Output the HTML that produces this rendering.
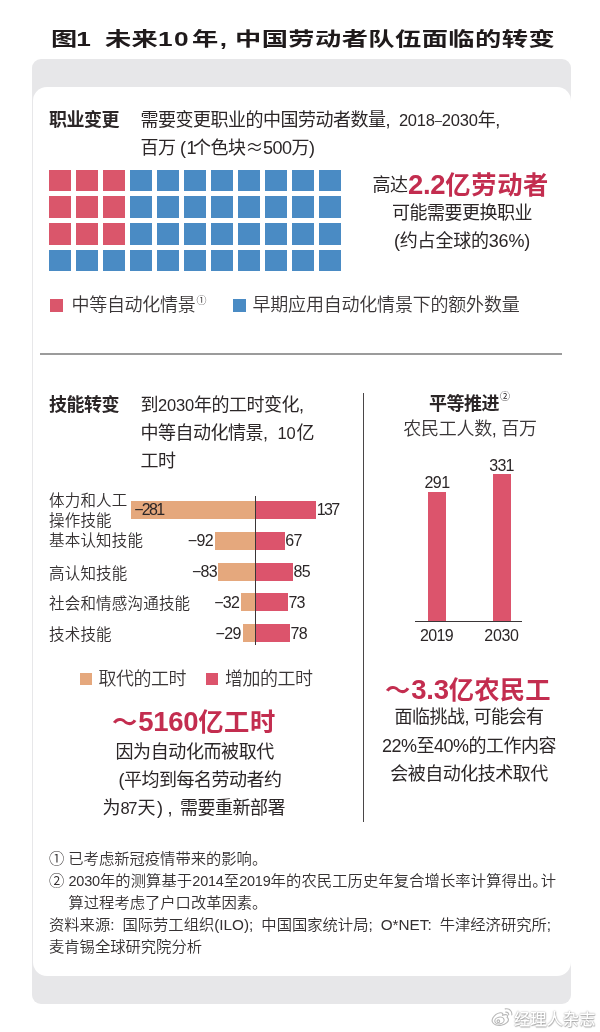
<!DOCTYPE html>
<html lang="zh-CN">
<head>
<meta charset="utf-8">
<title>图1 未来10年，中国劳动者队伍面临的转变</title>
<style>
html,body{margin:0;padding:0;background:#fff;}
body{width:600px;height:1032px;position:relative;overflow:hidden;
  font-family:"Liberation Sans","Noto Sans CJK SC",sans-serif;color:#2b2627;}
.abs{position:absolute;}
.t{position:absolute;white-space:nowrap;line-height:1;font-weight:400;color:#2b2627;}
.b{font-weight:700;}
.tt{font-weight:700;font-size:19.3px;letter-spacing:.2px;color:#1f1a1b;transform:scaleX(1.36);transform-origin:0 0;}
.red{color:#c32d4f;}
.c{text-align:center;}
.sq{position:absolute;width:22px;height:21.5px;}
.r{background:#da566b;}
.bl{background:#4a8bc4;}
.bar{position:absolute;height:18px;}
.cl{font-size:15.5px;font-weight:350;color:#353132;letter-spacing:.2px;}
.n{font-size:16px;letter-spacing:-.7px;}
.or{background:#e5a87d;}
.rd{background:#dc546c;}
.bd{font-size:27.5px;letter-spacing:-.3px;}
.d{font-size:16.5px;letter-spacing:-.2px;margin-left:4.5px;}
.ds{font-size:13px;position:relative;top:-1px;}
.cj{font-family:"Noto Sans CJK SC",sans-serif;line-height:0;}
.lg{font-weight:350;color:#3a3637;}
.sp{display:inline-block;font-size:10px;line-height:0;position:relative;top:-7px;margin-left:1px;letter-spacing:0;font-weight:400;}
.f{font-size:15.3px;font-weight:350;color:#353132;}
.g1{display:inline-block;width:4px;}
.g2{display:inline-block;width:8px;}
.fd{font-size:14.5px;letter-spacing:-.2px;}
.fs{margin-right:-7px;}
</style>
</head>
<body>
<!-- backdrop -->
<div class="abs" id="gray" style="left:32px;top:59px;width:539px;height:945px;background:#e7e7e9;border-radius:9px;"></div>
<div class="abs" id="panel" style="left:32.5px;top:87px;width:538.5px;height:889px;background:#fff;border-radius:14px;"></div>

<!-- title -->
<div class="t b tt" id="title" style="left:50.5px;top:29.5px;">图<span style="letter-spacing:0;margin-left:-1px;">1</span></div>
<div class="t b tt" id="title2" style="left:105px;top:29.5px;">未来<span style="letter-spacing:1px;margin-right:1.5px;">10</span>年<span style="letter-spacing:0;margin-left:1px">,</span></div>
<div class="t b tt" id="title3" style="left:234.5px;top:29.5px;letter-spacing:.33px;">中国劳动者队伍面临的转变</div>

<!-- section 1 -->
<div class="t b" id="s1h" style="left:49px;top:110.8px;font-size:18px;letter-spacing:-0.5px;">职业变更</div>
<div class="t" id="s1a" style="left:140.5px;top:110.8px;font-size:18px;letter-spacing:-0.5px;">需要变更职业的中国劳动者数量,<span class="d"> 2018<span class="ds">–</span>2030</span>年,</div>
<div class="t" id="s1b" style="left:140.5px;top:138.8px;font-size:18px;letter-spacing:-0.5px;">百万 (<span style="margin:0 -3px 0 1px">1</span>个色块<span class="cj">≈</span>500万)</div>

<div id="waffle">
<div class="sq r" style="left:49px;top:169.5px"></div><div class="sq r" style="left:76px;top:169.5px"></div><div class="sq r" style="left:103px;top:169.5px"></div><div class="sq bl" style="left:130px;top:169.5px"></div><div class="sq bl" style="left:157px;top:169.5px"></div><div class="sq bl" style="left:184px;top:169.5px"></div><div class="sq bl" style="left:211px;top:169.5px"></div><div class="sq bl" style="left:238px;top:169.5px"></div><div class="sq bl" style="left:265px;top:169.5px"></div><div class="sq bl" style="left:292px;top:169.5px"></div><div class="sq bl" style="left:319px;top:169.5px"></div>
<div class="sq r" style="left:49px;top:196.3px"></div><div class="sq r" style="left:76px;top:196.3px"></div><div class="sq r" style="left:103px;top:196.3px"></div><div class="sq bl" style="left:130px;top:196.3px"></div><div class="sq bl" style="left:157px;top:196.3px"></div><div class="sq bl" style="left:184px;top:196.3px"></div><div class="sq bl" style="left:211px;top:196.3px"></div><div class="sq bl" style="left:238px;top:196.3px"></div><div class="sq bl" style="left:265px;top:196.3px"></div><div class="sq bl" style="left:292px;top:196.3px"></div><div class="sq bl" style="left:319px;top:196.3px"></div>
<div class="sq r" style="left:49px;top:223.1px"></div><div class="sq r" style="left:76px;top:223.1px"></div><div class="sq r" style="left:103px;top:223.1px"></div><div class="sq bl" style="left:130px;top:223.1px"></div><div class="sq bl" style="left:157px;top:223.1px"></div><div class="sq bl" style="left:184px;top:223.1px"></div><div class="sq bl" style="left:211px;top:223.1px"></div><div class="sq bl" style="left:238px;top:223.1px"></div><div class="sq bl" style="left:265px;top:223.1px"></div><div class="sq bl" style="left:292px;top:223.1px"></div><div class="sq bl" style="left:319px;top:223.1px"></div>
<div class="sq bl" style="left:49px;top:249.9px"></div><div class="sq bl" style="left:76px;top:249.9px"></div><div class="sq bl" style="left:103px;top:249.9px"></div><div class="sq bl" style="left:130px;top:249.9px"></div><div class="sq bl" style="left:157px;top:249.9px"></div><div class="sq bl" style="left:184px;top:249.9px"></div><div class="sq bl" style="left:211px;top:249.9px"></div><div class="sq bl" style="left:238px;top:249.9px"></div><div class="sq bl" style="left:265px;top:249.9px"></div><div class="sq bl" style="left:292px;top:249.9px"></div><div class="sq bl" style="left:319px;top:249.9px"></div>
</div>

<div class="t" id="k1" style="left:372.5px;top:175.8px;font-size:18px;letter-spacing:-0.5px;">高达</div>
<div class="t b red" id="k1b" style="left:408px;top:171.2px;font-size:25.3px;letter-spacing:.6px;"><span class="bd">2.2</span>亿劳动者</div>
<div class="t c" id="k2" style="left:362px;width:200px;top:203.8px;font-size:18px;letter-spacing:-0.5px;">可能需要更换职业</div>
<div class="t c" id="k3" style="left:362px;width:200px;top:232.3px;font-size:18px;letter-spacing:-0.2px;">(约占全球的36%)</div>

<div class="abs r" style="left:50px;top:298.5px;width:13px;height:13px;"></div>
<div class="t lg" id="lg1" style="left:71.5px;top:296.3px;font-size:18px;letter-spacing:-0.3px;">中等自动化情景<span class="sp">①</span></div>
<div class="abs bl" style="left:233px;top:298.5px;width:13px;height:13px;"></div>
<div class="t lg" id="lg2" style="left:252.5px;top:296.3px;font-size:18px;letter-spacing:-0.2px;">早期应用自动化情景下的额外数量</div>

<div class="abs" style="left:40.3px;top:353.4px;width:521.3px;height:1.5px;background:#9b9b9b;"></div>
<div class="abs" style="left:362.7px;top:393.3px;width:1.1px;height:428.7px;background:#4a4647;"></div>

<!-- section 2 -->
<div class="t b" id="s2h" style="left:49px;top:395.8px;font-size:18px;letter-spacing:-0.5px;">技能转变</div>
<div class="t" id="s2a" style="left:140.5px;top:395.8px;font-size:18px;letter-spacing:-0.5px;">到<span class="d" style="margin:0">2030</span>年的工时变化,</div>
<div class="t" id="s2b" style="left:140.5px;top:423.8px;font-size:18px;letter-spacing:-0.5px;">中等自动化情景,<span class="d" style="margin-left:10px;margin-right:1px;">10</span>亿</div>
<div class="t" id="s2c" style="left:140.5px;top:451.8px;font-size:18px;letter-spacing:-0.5px;">工时</div>

<!-- bar chart -->
<div class="bar or" style="left:130.5px;top:501.2px;width:125px;"></div><div class="bar rd" style="left:255.5px;top:501.2px;width:60.2px;"></div>
<div class="bar or" style="left:214.5px;top:531.8px;width:41px;"></div><div class="bar rd" style="left:255.5px;top:531.8px;width:29.5px;"></div>
<div class="bar or" style="left:218.3px;top:562.6px;width:37.2px;"></div><div class="bar rd" style="left:255.5px;top:562.6px;width:37.3px;"></div>
<div class="bar or" style="left:241px;top:593.4px;width:14.5px;"></div><div class="bar rd" style="left:255.5px;top:593.4px;width:32.3px;"></div>
<div class="bar or" style="left:242.8px;top:624.4px;width:12.7px;"></div><div class="bar rd" style="left:255.5px;top:624.4px;width:34.5px;"></div>
<div class="abs" style="left:255px;top:496px;width:1px;height:149px;background:#3a3637;"></div>

<div class="t cl" id="c1a" style="left:49px;top:493.3px;">体力和人工</div>
<div class="t cl" id="c1b" style="left:49px;top:513.3px;">操作技能</div>
<div class="t cl" id="c2" style="left:49px;top:533.3px;">基本认知技能</div>
<div class="t cl" id="c3" style="left:49px;top:565.8px;">高认知技能</div>
<div class="t cl" id="c4" style="left:49px;top:596.3px;">社会和情感沟通技能</div>
<div class="t cl" id="c5" style="left:49px;top:626.8px;">技术技能</div>

<div class="t n" id="n1a" style="letter-spacing:-1.7px;left:134.2px;top:502.4px;">−281</div><div class="t n" id="n1b" style="letter-spacing:-1.7px;left:316.8px;top:502.4px;">137</div>
<div class="t n" id="n2a" style="right:387.1px;top:533px;">−92</div><div class="t n" id="n2b" style="left:285.2px;top:533px;">67</div>
<div class="t n" id="n3a" style="right:383px;top:563.8px;">−83</div><div class="t n" id="n3b" style="left:293.5px;top:563.8px;">85</div>
<div class="t n" id="n4a" style="right:360.8px;top:594.6px;">−32</div><div class="t n" id="n4b" style="left:288.4px;top:594.6px;">73</div>
<div class="t n" id="n5a" style="right:359.4px;top:625.6px;">−29</div><div class="t n" id="n5b" style="left:290.6px;top:625.6px;">78</div>

<div class="abs or" style="left:79.5px;top:673px;width:12px;height:12px;"></div>
<div class="t lg" id="lg3" style="left:98.5px;top:670.3px;font-size:18px;letter-spacing:-0.5px;">取代的工时</div>
<div class="abs rd" style="left:205.5px;top:673px;width:12px;height:12px;"></div>
<div class="t lg" id="lg4" style="left:225px;top:670.3px;font-size:18px;letter-spacing:-0.5px;">增加的工时</div>

<div class="t b red" id="k4" style="left:112px;top:708px;font-size:25.3px;letter-spacing:.5px;"><span style="letter-spacing:0;margin-right:1px;">～</span><span class="bd">5160</span>亿工时</div>
<div class="t" id="k5" style="left:115.5px;top:742.8px;font-size:18px;letter-spacing:-0.4px;">因为自动化而被取代</div>
<div class="t" id="k6" style="left:118.5px;top:770.8px;font-size:18px;letter-spacing:-0.5px;"><span style="margin-right:0px;">(</span>平均到每名劳动者约</div>
<div class="t" id="k7" style="left:102.5px;top:798.8px;font-size:18px;letter-spacing:-0.5px;">为<span class="d" style="margin:0 1.5px 0 .5px;font-size:16.5px;letter-spacing:-1.4px;">87</span>天<span style="margin:0 5px 0 2px;">)</span>,<span style="margin-left:8px;">需要重新部署</span></div>

<!-- right -->
<div class="t b" id="r1" style="left:429px;top:394.8px;font-size:18px;letter-spacing:-0.5px;">平等推进<span class="sp" style="font-weight:400;top:-10px;color:#2b2627;">②</span></div>
<div class="t c lg" id="r2" style="left:370px;width:200px;top:420.3px;font-size:18px;letter-spacing:-0.3px;">农民工人数, 百万</div>
<div class="abs rd" style="left:428px;top:492px;width:18px;height:129px;"></div>
<div class="abs rd" style="left:493px;top:474px;width:18px;height:147px;"></div>
<div class="abs" style="left:415px;top:621px;width:107px;height:1px;background:#3a3637;"></div>
<div class="t c" id="v1" style="left:407px;width:60px;top:475px;font-size:16px;letter-spacing:-.5px;">291</div>
<div class="t c" id="v2" style="left:471.5px;width:60px;top:457.5px;font-size:16px;letter-spacing:-.8px;">331</div>
<div class="t c" id="y1" style="left:406.5px;width:60px;top:627.5px;font-size:16px;letter-spacing:-.6px;">2019</div>
<div class="t c" id="y2" style="left:471.5px;width:60px;top:627.5px;font-size:16px;letter-spacing:-.3px;">2030</div>

<div class="t b red" id="k8" style="left:385px;top:675.5px;font-size:25.3px;letter-spacing:.2px;"><span style="letter-spacing:0;margin-right:1px;">～</span><span class="bd">3.3</span>亿农民工</div>
<div class="t c" id="k9" style="left:369px;width:200px;top:708.3px;font-size:18px;letter-spacing:-0.5px;">面临挑战, 可能会有</div>
<div class="t c" id="k10" style="left:369px;width:200px;top:737.3px;font-size:18px;letter-spacing:-0.5px;">22%至40%的工作内容</div>
<div class="t c" id="k11" style="left:369px;width:200px;top:765.3px;font-size:18px;letter-spacing:-0.5px;">会被自动化技术取代</div>

<!-- footnotes -->
<div class="t f" id="f1" style="left:49px;top:851px;">①<span class="g1"></span>已考虑新冠疫情带来的影响。</div>
<div class="t f" id="f2" style="left:49px;top:873px;letter-spacing:.1px;">②<span class="g1"></span><span class="fd">2030</span>年的测算基于<span class="fd">2014</span>至<span class="fd">2019</span>年的农民工历史年复合增长率计算得出<span class="fs">。</span>计</div>
<div class="t f" id="f3" style="left:68.5px;top:894.8px;">算过程考虑了户口改革因素。</div>
<div class="t f" id="f4" style="left:49px;top:916.5px;">资料来源:<span class="g2"></span>国际劳工组织(ILO);<span class="g2"></span>中国国家统计局;<span class="g2"></span>O*NET:<span class="g2"></span>牛津经济研究所;</div>
<div class="t f" id="f5" style="left:49px;top:938.5px;">麦肯锡全球研究院分析</div>

<!-- watermark -->
<svg class="abs" id="wblogo" style="left:489.5px;top:1005.5px;" width="25.3" height="22" viewBox="0 0 23 20">
<g fill="none" stroke="#b8b8b8" stroke-width="1" stroke-linecap="round">
<path d="M9.2 6.2c-2.6.5-5.3 2.500-6.600 4.700-1.400 2.500-.6 5 2.300 6.200 3.300 1.300 7.900.5 10.400-1.900 1.800-1.700 2-3.700.3-4.700.5-1.100.4-2.100-.6-2.500-1-.4-2.300-.1-3.500.4.400-1.200.100-2.600-2.300-2.200z" fill="#fff"/>
<ellipse cx="8.6" cy="13.2" rx="4.300" ry="3.100" transform="rotate(-12 8.600 13.200)"/>
<circle cx="7.600" cy="13.800" r="1.200"/>
<path d="M14.300 5.600c1.500-.3 2.900.9 2.700 2.500"/>
<path d="M13.800 2.600c3.500-.8 6.600 2 6 5.600"/>
</g>
</svg>
<div class="t" id="wm" style="left:514px;top:1010.5px;font-size:16.3px;font-weight:500;color:#fff;text-shadow:0 0 1.5px rgba(0,0,0,.45),.5px .5px 1px rgba(0,0,0,.25);">经理人杂志</div>
</body>
</html>
